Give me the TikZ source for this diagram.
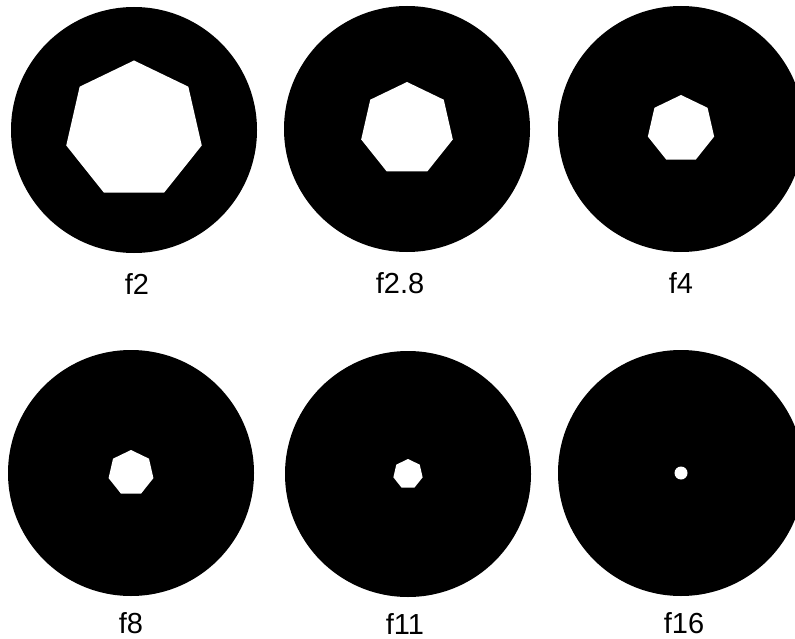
\documentclass[tikz,border=0pt]{standalone}
\usepackage{fontspec}
\setmainfont{Liberation Sans}
\usetikzlibrary{shapes.geometric,positioning}

\begin{document}
\begin{tikzpicture}[x=1pt,y=-1pt,
  disc/.style={circle,fill=black,inner sep=0pt,minimum size=246pt},
  hole/.style={regular polygon,regular polygon sides=7,fill=white,inner sep=0pt,minimum size=#1},
  pinhole/.style={circle,fill=white,inner sep=0pt,minimum size=13pt},
  lbl/.style={font=\fontsize{29}{31}\selectfont,inner sep=0pt}]
\useasboundingbox (0,0) rectangle (795,639);
% top row
\node[disc] (d1) at (134,130) {};
\node[disc] (d2) at (407,129) {};
\node[disc] (d3) at (681,129) {};
\node[hole=139pt] (h1) at (d1) {};
\node[hole=94pt] (h2) at (d2) {};
\node[hole=68pt] (h3) at (d3) {};
\node[lbl,below=20pt of d1,xshift=3pt] (l1) {f2};
\node[lbl,below=20pt of d2,xshift=-7pt] (l2) {f2.8};
\node[lbl,below=20pt of d3] (l3) {f4};
% bottom row
\node[disc] (d4) at (131,473) {};
\node[disc] (d5) at (408,474) {};
\node[disc] (d6) at (681,473) {};
\node[hole=46pt] (h4) at (d4) {};
\node[hole=30pt] (h5) at (d5) {};
\node[pinhole] (h6) at (d6) {};
\node[lbl,below=16pt of d4] (l4) {f8};
\node[lbl,below=16pt of d5,xshift=-3pt] (l5) {f11};
\node[lbl,below=16pt of d6,xshift=3pt] (l6) {f16};
\end{tikzpicture}
\end{document}
